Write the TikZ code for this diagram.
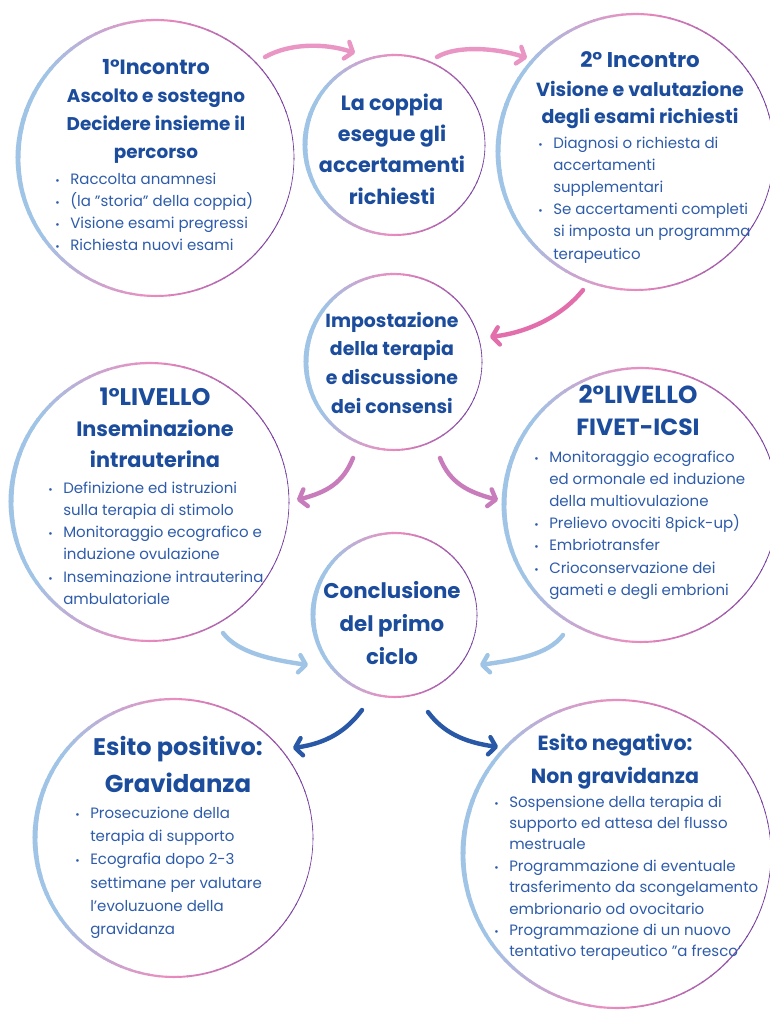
\documentclass[tikz,border=0pt]{standalone}
\usepackage{fontspec}
\setmainfont{Poppins}
\usetikzlibrary{arrows.meta}
\definecolor{titleblue}{RGB}{28,76,156}
\definecolor{bodyblue}{RGB}{46,92,170}
\definecolor{ringblue}{RGB}{160,196,230}
\definecolor{ringpink}{RGB}{236,140,190}
\definecolor{ringpurple}{RGB}{118,62,160}
\definecolor{arrpink}{RGB}{234,150,196}
\definecolor{arrhot}{RGB}{226,110,172}
\definecolor{arrmauve}{RGB}{200,124,188}
\definecolor{arrlight}{RGB}{160,196,230}
\definecolor{arrdark}{RGB}{40,88,166}
\newcommand{\ring}[3]{%
  \foreach \a in {0,4,...,356}{%
    \pgfmathsetmacro\rT{min(\a,360-\a)/180}%
    \pgfmathsetmacro\rA{max(0,min(100,(\rT-0.15)/0.35*100))}%
    \pgfmathsetmacro\rB{max(0,min(100,(\rT-0.5)/0.3*100))}%
    \pgfmathsetmacro\rW{0.75*(0.6+1.5*\rT+2.9*\rT*\rT)}%
    \ifdim\rT pt<0.5pt \colorlet{rc}{ringpink!\rA!ringpurple}\else\colorlet{rc}{ringblue!\rB!ringpink}\fi
    \draw[rc, line width=\rW pt, shift={(#1,#2)}] (\a:#3) arc[start angle=\a, end angle=\a+4.6, radius=#3];
  }}
\newcommand{\bu}{\makebox[11.25pt][l]{\fontsize{8}{8}\selectfont •}}
\newcommand{\nb}{\hspace*{11.25pt}}
\tikzset{
  cnode/.style={circle, inner sep=0pt, minimum size=#1},
  ttl/.style 2 args={text=titleblue, inner sep=0pt, anchor=base, font=\bfseries\fontsize{#1}{#2}\selectfont},
  bdy/.style={text=bodyblue, inner sep=0pt, anchor=base west, font=\fontsize{11.25}{#1}\selectfont},
  flow/.style={line width=3.3pt, line cap=round, -{Straight Barb[length=5pt,width=13pt,round]}}
}
\begin{document}
\begin{tikzpicture}[x=0.75pt,y=-0.75pt]
\useasboundingbox (0,0) rectangle (769,1010);
\fill[white] (0,0) rectangle (769,1010);
% circles
\node[cnode=207pt] (c1) at (156,158) {};
\node[cnode=135pt] (c2) at (395,145) {};
\node[cnode=207pt] (c3) at (636,152) {};
\node[cnode=132pt] (c4) at (394,362) {};
\node[cnode=208pt] (c5) at (150,502) {};
\node[cnode=205pt] (c6) at (641,505) {};
\node[cnode=123pt] (c7) at (395,615) {};
\node[cnode=208pt] (c8) at (174,838) {};
\node[cnode=231pt] (c9) at (617,854) {};
\ring{156}{158}{138}
\ring{395}{145}{90}
\ring{636}{152}{138}
\ring{394}{362}{88}
\ring{150}{502}{139}
\ring{641}{505}{137}
\ring{395}{615}{82}
\ring{174}{838}{139}
\ring{617}{854}{154}
% titles
\node[ttl={13.8}{21}] (t1) at (156,74) {\begin{tabular}[t]{@{}c@{}}{\fontsize{15.5}{20}\selectfont 1°Incontro}\\ Ascolto e sostegno\\ Decidere insieme il\\ percorso\end{tabular}};
\node[ttl={15.5}{23.6}] (t2) at (392,110) {\begin{tabular}[t]{@{}c@{}}La coppia\\ esegue gli\\ accertamenti\\ richiesti\end{tabular}};
\node[ttl={14.25}{20.25}] (t3) at (640,67) {\begin{tabular}[t]{@{}c@{}}{\fontsize{16}{20}\selectfont 2° Incontro}\\[1.5pt] Visione e valutazione\\ degli esami richiesti\end{tabular}};
\node[ttl={14.2}{21.5}] (t4) at (392,327) {\begin{tabular}[t]{@{}c@{}}Impostazione\\ della terapia\\ e discussione\\ dei consensi\end{tabular}};
\node[ttl={15.6}{23.6}] (t5) at (155,405) {\begin{tabular}[t]{@{}c@{}}{\fontsize{18}{20}\selectfont 1°LIVELLO}\\ Inseminazione\\ intrauterina\end{tabular}};
\node[ttl={17.6}{24}] (t6) at (638,403) {\begin{tabular}[t]{@{}c@{}}{\fontsize{18.5}{20}\selectfont 2°LIVELLO}\\ FIVET-ICSI\end{tabular}};
\node[ttl={16}{25}] (t7) at (392,598) {\begin{tabular}[t]{@{}c@{}}Conclusione\\ del primo\\ ciclo\end{tabular}};
\node[ttl={18}{27.75}] (t8) at (178,755) {\begin{tabular}[t]{@{}c@{}}Esito positivo:\\ {\fontsize{18.3}{22}\selectfont Gravidanza}\end{tabular}};
\node[ttl={15.4}{24.75}] (t9) at (615,750) {\begin{tabular}[t]{@{}c@{}}Esito negativo:\\ Non gravidanza\end{tabular}};
% bodies
\node[bdy=16.7pt] (b1) at (55,184) {\begin{tabular}[t]{@{}l@{}}\bu Raccolta anamnesi\\ \bu (la ''storia'' della coppia)\\ \bu Visione esami pregressi\\ \bu Richiesta nuovi esami\end{tabular}};
\node[bdy=16.65pt] (b3) at (538,148) {\begin{tabular}[t]{@{}l@{}}\bu Diagnosi o richiesta di\\ \nb accertamenti\\ \nb supplementari\\ \bu Se accertamenti completi\\ \nb si imposta un programma\\ \nb terapeutico\end{tabular}};
\node[bdy=16.7pt] (b5) at (48,493) {\begin{tabular}[t]{@{}l@{}}\bu Definizione ed istruzioni\\ \nb sulla terapia di stimolo\\ \bu Monitoraggio ecografico e\\ \nb induzione ovulazione\\ \bu Inseminazione intrauterina\\ \nb ambulatoriale\end{tabular}};
\node[bdy=16.65pt] (b6) at (534,462) {\begin{tabular}[t]{@{}l@{}}\bu Monitoraggio ecografico\\ \nb ed ormonale ed induzione\\ \nb della multiovulazione\\ \bu Prelievo ovociti 8pick-up)\\ \bu Embriotransfer\\ \bu Crioconservazione dei\\ \nb gameti e degli embrioni\end{tabular}};
\node[bdy=17.5pt] (b8) at (75,818) {\begin{tabular}[t]{@{}l@{}}\bu Prosecuzione della\\ \nb terapia di supporto\\ \bu Ecografia dopo 2-3\\ \nb settimane per valutare\\ \nb l'evoluzuone della\\ \nb gravidanza\end{tabular}};
\node[bdy=16.05pt] (b9) at (494,807) {\begin{tabular}[t]{@{}l@{}}\bu Sospensione della terapia di\\ \nb supporto ed attesa del flusso\\ \nb mestruale\\ \bu Programmazione di eventuale\\ \nb trasferimento da scongelamento\\ \nb embrionario od ovocitario\\ \bu Programmazione di un nuovo\\ \nb tentativo terapeutico ''a fresco'\end{tabular}};
% arrow ends
\coordinate (a1s) at (265,57);  \coordinate (a1e) at (355,53);
\coordinate (a2s) at (437,57);  \coordinate (a2e) at (527,58);
\coordinate (a3s) at (583,290); \coordinate (a3e) at (490,337);
\coordinate (a4s) at (353,458); \coordinate (a4e) at (297,500);
\coordinate (a5s) at (440,458); \coordinate (a5e) at (498,500);
\coordinate (a6s) at (223,633); \coordinate (a6e) at (308,665);
\coordinate (a7s) at (563,635); \coordinate (a7e) at (480,665);
\coordinate (a8s) at (362,710); \coordinate (a8e) at (293,748);
\coordinate (a9s) at (428,712); \coordinate (a9e) at (498,747);
\draw[flow, arrpink] (a1s) .. controls +(25,-14) and +(-30,-10) .. (a1e);
\draw[flow, arrpink] (a2s) .. controls +(20,-12) and +(-30,-10) .. (a2e);
\draw[flow, arrhot] (a3s) .. controls +(-20,25) and +(40,-5) .. (a3e);
\draw[flow, arrmauve] (a4s) .. controls +(-10,25) and +(30,-8) .. (a4e);
\draw[flow, arrmauve] (a5s) .. controls +(10,25) and +(-30,-8) .. (a5e);
\draw[flow, arrlight] (a6s) .. controls +(15,20) and +(-35,-5) .. (a6e);
\draw[flow, arrlight] (a7s) .. controls +(-15,20) and +(35,-5) .. (a7e);
\draw[flow, arrdark] (a8s) .. controls +(-15,20) and +(35,-5) .. (a8e);
\draw[flow, arrdark] (a9s) .. controls +(15,20) and +(-35,-5) .. (a9e);
\end{tikzpicture}
\end{document}
